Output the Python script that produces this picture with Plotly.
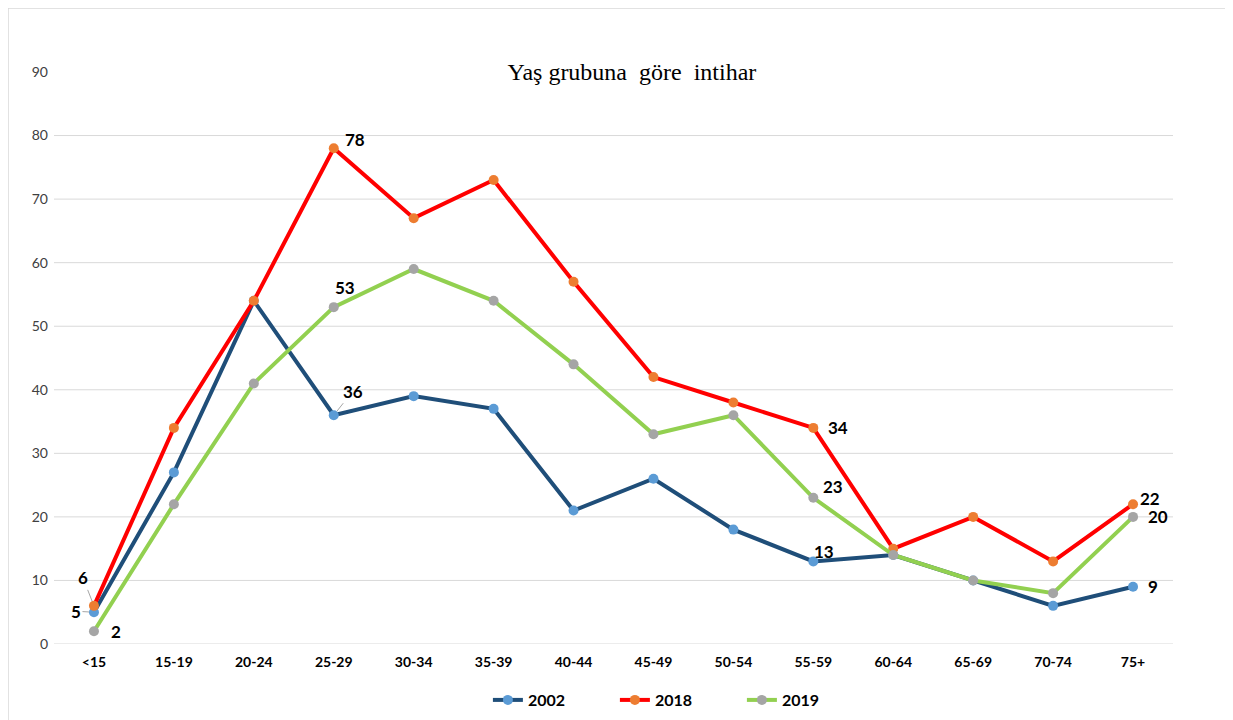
import plotly.graph_objects as go

categories = ["<15", "15-19", "20-24", "25-29", "30-34", "35-39", "40-44",
              "45-49", "50-54", "55-59", "60-64", "65-69", "70-74", "75+"]
v2002 = [5, 27, 54, 36, 39, 37, 21, 26, 18, 13, 14, 10, 6, 9]
v2018 = [6, 34, 54, 78, 67, 73, 57, 42, 38, 34, 15, 20, 13, 22]
v2019 = [2, 22, 41, 53, 59, 54, 44, 33, 36, 23, 14, 10, 8, 20]
y_ticks = [0, 10, 20, 30, 40, 50, 60, 70, 80, 90]
grid_vals = [0, 10, 20, 30, 40, 50, 60, 70, 80]

FONT = "Lato"
L, R, T, B = 46, 68, 64, 83
W, H = 1233, 720
PW, PH = W - L - R, H - T - B

fig = go.Figure()
series = [
    ("2002", v2002, "#1F4E79", "#5B9BD5"),
    ("2018", v2018, "#FF0000", "#ED7D31"),
    ("2019", v2019, "#92D050", "#A5A5A5"),
]
for name, vals, lc, mc in series:
    fig.add_trace(go.Scatter(
        x=categories, y=vals, name=name, mode="lines+markers",
        line=dict(color=lc, width=4),
        marker=dict(color=mc, size=10),
        hoverinfo="x+y+name",
    ))

for g in grid_vals:
    fig.add_shape(type="line", xref="paper", yref="y", x0=0, x1=1, y0=g, y1=g,
                  line=dict(color="#D9D9D9", width=1), layer="below")

# data labels: (series values, index, dx, dy, leader)
labels = [
    (v2002, 0, -18, -1, True),
    (v2018, 0, -11, -28, True),
    (v2019, 0, 22, 0, False),
    (v2018, 3, 21, -9, False),
    (v2019, 3, 11, -20, False),
    (v2002, 3, 19, -24, True),
    (v2002, 9, 11, -10, False),
    (v2018, 9, 25, 0, False),
    (v2019, 9, 20, -11, False),
    (v2018, 13, 17, -6, False),
    (v2019, 13, 25, 0, False),
    (v2002, 13, 20, 0, False),
]
for vals, i, dx, dy, leader in labels:
    if leader:
        fig.add_annotation(x=categories[i], y=vals[i], text=f"<b>{vals[i]}</b>",
                           showarrow=True, ax=dx, ay=dy, arrowhead=0,
                           arrowwidth=1, arrowcolor="#A6A6A6", standoff=5,
                           font=dict(family=FONT, size=17, color="#000000"))
    else:
        fig.add_annotation(x=categories[i], y=vals[i], text=f"<b>{vals[i]}</b>",
                           showarrow=False, xshift=dx, yshift=-dy,
                           font=dict(family=FONT, size=17, color="#000000"))

# chart border
fig.add_shape(type="rect", xref="paper", yref="paper",
              x0=-L / PW, x1=1 + (R + 20) / PW, y0=-(B + 20) / PH, y1=1 + T / PH,
              line=dict(color="#D9D9D9", width=1.5), layer="below")

fig.update_layout(
    width=W, height=H,
    margin=dict(l=L, r=R, t=T, b=B),
    paper_bgcolor="white", plot_bgcolor="white",
    title=dict(text="Yaş grubuna  göre  intihar", x=0.506, xanchor="center",
               y=1 - (72 - 8) / H, yanchor="middle",
               font=dict(family="Liberation Serif", size=24, color="#000000")),
    showlegend=True,
    legend=dict(orientation="h", x=0.558, xanchor="center", y=-0.096, yanchor="middle",
                font=dict(family=FONT, size=16, color="#000000", weight="bold"),
                entrywidth=82, tracegroupgap=0),
    xaxis=dict(type="category", showgrid=False, showline=False, zeroline=False,
               ticks="", ticklabelstandoff=8,
               tickfont=dict(family=FONT, size=14, color="#000000", weight="bold"),
               range=[-0.5, 13.5]),
    yaxis=dict(range=[0, 90], tickvals=y_ticks, showgrid=False, zeroline=False,
               showline=False, ticks="", ticklabelstandoff=5,
               tickfont=dict(family=FONT, size=14, color="#404040")),
)

fig.write_html("out.html")
